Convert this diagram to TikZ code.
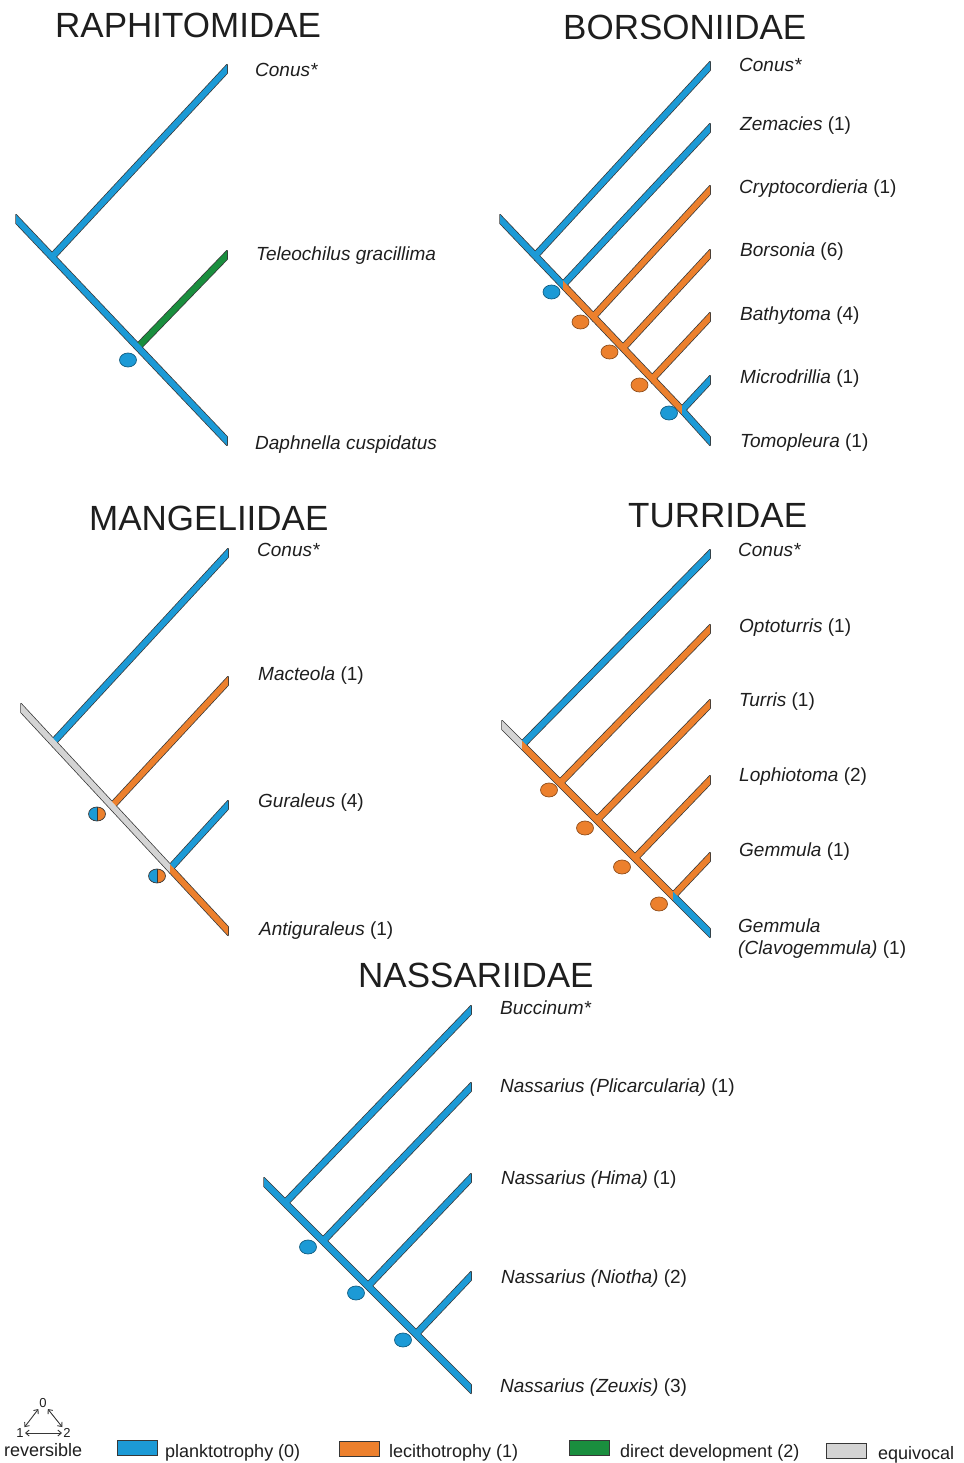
\documentclass[tikz,border=0pt]{standalone}
\usepackage{fontspec}
\setmainfont{Liberation Sans}
\usetikzlibrary{calc,arrows.meta,shapes.geometric}

\definecolor{plank}{RGB}{28,154,214}
\definecolor{leci}{RGB}{236,128,45}
\definecolor{direct}{RGB}{26,142,62}
\definecolor{equiv}{RGB}{212,212,212}
\definecolor{rim}{RGB}{55,55,55}
\definecolor{ink}{RGB}{30,30,30}

% half of the vertical thickness of a branch bar
\newcommand\hw{4.3}
% a branch bar between two named points, cut vertically at both ends
\newcommand\rimseg[3]{\filldraw[rimstyle] ($(#1)+(0,-\hw)$) -- ($(#2)+(0,-\hw)$) -- ($(#2)+(0,\hw)$) -- ($(#1)+(0,\hw)$) -- cycle;}
\newcommand\fillseg[3]{\fill[#3] ($(#1)+(0,-\hw)$) -- ($(#2)+(0,-\hw)$) -- ($(#2)+(0,\hw)$) -- ($(#1)+(0,\hw)$) -- cycle;}
\newcommand\seg{}
% outlines first, then fills, so joined bars merge cleanly
\newcommand\branches[1]{\let\seg\rimseg #1\let\seg\fillseg #1}

\begin{document}
\begin{tikzpicture}[x=1pt,y=-1pt,
  rimstyle/.style={draw=rim,fill=rim,line width=1.5pt,line join=round},
  ttl/.style={anchor=base west,inner sep=0pt,text=ink,font=\fontsize{35}{40}\selectfont},
  lab/.style={anchor=base west,inner sep=0pt,text=ink,font=\fontsize{19}{22}\selectfont},
  leg/.style={anchor=base west,inner sep=0pt,text=ink,font=\fontsize{18}{20}\selectfont},
  dig/.style={inner sep=1.2pt,text=ink,font=\fontsize{13}{14}\selectfont},
  dotnode/.style={ellipse,minimum width=17pt,minimum height=14pt,inner sep=0pt,line width=0.7pt},
  bdot/.style={dotnode,fill=plank,draw=plank!60!black},
  odot/.style={dotnode,fill=leci,draw=leci!60!black},
  sdot/.style={dotnode,draw=rim,path picture={
      \fill[plank] (path picture bounding box.south west) rectangle (path picture bounding box.north);
      \fill[leci] (path picture bounding box.south) rectangle (path picture bounding box.north east);
      \draw[rim,line width=0.7pt] (path picture bounding box.south) -- (path picture bounding box.north);}},
  legbox/.style={draw=rim,line width=0.6pt,minimum width=40pt,minimum height=15pt,inner sep=0pt},
  biarrow/.style={{Straight Barb[length=3.5pt,width=6pt]}-{Straight Barb[length=3.5pt,width=6pt]},line width=0.9pt,draw=rim}]

\useasboundingbox (0,0) rectangle (963,1463);

% ---------------- RAPHITOMIDAE ----------------
\node[ttl] (tA) at (55,38) {RAPHITOMIDAE};
\coordinate (A0) at (16,219);
\coordinate (A1) at (52,257);
\coordinate (A2) at (138,347);
\coordinate (A1t) at (227,69);
\coordinate (A2t) at (227,255);
\coordinate (A3t) at (227,441);
\branches{\seg{A1}{A1t}{plank}\seg{A2}{A2t}{direct}\seg{A0}{A3t}{plank}}
\node[bdot] (dA2) at (128,360) {};
\node[lab] (lA1) at (255,77) {\itshape Conus*};
\node[lab] (lA2) at (256,261) {\itshape Teleochilus gracillima};
\node[lab] (lA3) at (255,449) {\itshape Daphnella cuspidatus};

% ---------------- BORSONIIDAE ----------------
\node[ttl] (tB) at (563,40) {BORSONIIDAE};
\coordinate (B0) at (500,219);
\coordinate (B1) at (535,256);
\coordinate (B2) at (563,285);
\coordinate (B3) at (593,317);
\coordinate (B4) at (623,348);
\coordinate (B5) at (652,379);
\coordinate (B6) at (682,410);
\coordinate (B1t) at (710,66);
\coordinate (B2t) at (710,128);
\coordinate (B3t) at (710,190);
\coordinate (B4t) at (710,254);
\coordinate (B5t) at (710,317);
\coordinate (B6t) at (710,380);
\coordinate (B7t) at (710,441);
\branches{\seg{B1}{B1t}{plank}\seg{B2}{B2t}{plank}\seg{B3}{B3t}{leci}\seg{B4}{B4t}{leci}
  \seg{B5}{B5t}{leci}\seg{B6}{B6t}{plank}
  \seg{B0}{B2}{plank}\seg{B2}{B6}{leci}\seg{B6}{B7t}{plank}}
\node[bdot] (dB2) at (551.5,292) {};
\node[odot] (dB3) at (580.5,322) {};
\node[odot] (dB4) at (609.5,352) {};
\node[odot] (dB5) at (639.5,385) {};
\node[bdot] (dB6) at (669,413) {};
\node[lab] (lB1) at (739,72) {\itshape Conus*};
\node[lab] (lB2) at (740,131) {\textit{Zemacies} (1)};
\node[lab] (lB3) at (739,194) {\textit{Cryptocordieria} (1)};
\node[lab] (lB4) at (740,257) {\textit{Borsonia} (6)};
\node[lab] (lB5) at (740,320) {\textit{Bathytoma} (4)};
\node[lab] (lB6) at (740,383) {\textit{Microdrillia} (1)};
\node[lab] (lB7) at (740,447) {\textit{Tomopleura} (1)};

% ---------------- MANGELIIDAE ----------------
\node[ttl] (tC) at (89,530) {MANGELIIDAE};
\coordinate (C0) at (21,708);
\coordinate (C1) at (53,742.5);
\coordinate (C2) at (112,806);
\coordinate (C3) at (170,868.5);
\coordinate (C1t) at (228,553);
\coordinate (C2t) at (228,681);
\coordinate (C3t) at (228,805);
\coordinate (C4t) at (228,931);
\branches{\seg{C1}{C1t}{plank}\seg{C2}{C2t}{leci}\seg{C3}{C3t}{plank}
  \seg{C0}{C3}{equiv}\seg{C3}{C4t}{leci}}
\node[sdot] (dC2) at (97,814) {};
\node[sdot] (dC3) at (157,876) {};
\node[lab] (lC1) at (257,556) {\itshape Conus*};
\node[lab] (lC2) at (258,680) {\textit{Macteola} (1)};
\node[lab] (lC3) at (258,807) {\textit{Guraleus} (4)};
\node[lab] (lC4) at (259,935) {\textit{Antiguraleus} (1)};

% ---------------- TURRIDAE ----------------
\node[ttl] (tD) at (628,527) {TURRIDAE};
\coordinate (D0) at (502,725);
\coordinate (D1) at (522,745);
\coordinate (D2) at (560,783);
\coordinate (D3) at (597,820);
\coordinate (D4) at (635,858);
\coordinate (D5) at (673,896);
\coordinate (D1t) at (710,554);
\coordinate (D2t) at (710,629);
\coordinate (D3t) at (710,704);
\coordinate (D4t) at (710,780);
\coordinate (D5t) at (710,857);
\coordinate (D6t) at (710,933);
\branches{\seg{D1}{D1t}{plank}\seg{D2}{D2t}{leci}\seg{D3}{D3t}{leci}\seg{D4}{D4t}{leci}
  \seg{D5}{D5t}{leci}
  \seg{D0}{D1}{equiv}\seg{D1}{D5}{leci}\seg{D5}{D6t}{plank}}
\node[odot] (dD2) at (549,790) {};
\node[odot] (dD3) at (585,828) {};
\node[odot] (dD4) at (622,867) {};
\node[odot] (dD5) at (659,904) {};
\node[lab] (lD1) at (738,556) {\itshape Conus*};
\node[lab] (lD2) at (739,632) {\textit{Optoturris} (1)};
\node[lab] (lD3) at (739,706) {\textit{Turris} (1)};
\node[lab] (lD4) at (739,781) {\textit{Lophiotoma} (2)};
\node[lab] (lD5) at (739,856) {\textit{Gemmula} (1)};
\node[lab] (lD6) at (738,932) {\textit{Gemmula}};
\node[lab] (lD6b) at (738,954) {\textit{(Clavogemmula)} (1)};

% ---------------- NASSARIIDAE ----------------
\node[ttl] (tE) at (358,987) {NASSARIIDAE};
\coordinate (E0) at (264,1182);
\coordinate (E1) at (285,1203);
\coordinate (E2) at (323,1241);
\coordinate (E3) at (368,1286);
\coordinate (E4) at (416,1334);
\coordinate (E1t) at (471,1010);
\coordinate (E2t) at (471,1087);
\coordinate (E3t) at (471,1178);
\coordinate (E4t) at (471,1276);
\coordinate (E5t) at (471,1389);
\branches{\seg{E1}{E1t}{plank}\seg{E2}{E2t}{plank}\seg{E3}{E3t}{plank}\seg{E4}{E4t}{plank}
  \seg{E0}{E5t}{plank}}
\node[bdot] (dE2) at (308,1247) {};
\node[bdot] (dE3) at (356,1293) {};
\node[bdot] (dE4) at (403,1340) {};
\node[lab] (lE1) at (500,1014) {\itshape Buccinum*};
\node[lab] (lE2) at (500,1092) {\textit{Nassarius (Plicarcularia)} (1)};
\node[lab] (lE3) at (501,1184) {\textit{Nassarius (Hima)} (1)};
\node[lab] (lE4) at (501,1283) {\textit{Nassarius (Niotha)} (2)};
\node[lab] (lE5) at (500,1392) {\textit{Nassarius (Zeuxis)} (3)};

% ---------------- legend ----------------
\node[dig] (k0) at (43,1403) {0};
\node[dig] (k1) at (20,1433) {1};
\node[dig] (k2) at (67,1433) {2};
\draw[biarrow] (k1) -- (k2);
\draw[biarrow] (k1) -- (k0);
\draw[biarrow] (k0) -- (k2);
\node[leg] (krev) at (4,1456) {reversible};

\node[legbox,fill=plank] (kb1) at (137,1447.5) {};
\node[leg] (kt1) at (165,1457) {planktotrophy (0)};
\node[legbox,fill=leci] (kb2) at (359,1448.5) {};
\node[leg] (kt2) at (389,1457) {lecithotrophy (1)};
\node[legbox,fill=direct] (kb3) at (589,1448) {};
\node[leg] (kt3) at (620,1457) {direct development (2)};
\node[legbox,fill=equiv] (kb4) at (846,1450.5) {};
\node[leg] (kt4) at (878,1459) {equivocal};
\end{tikzpicture}
\end{document}
